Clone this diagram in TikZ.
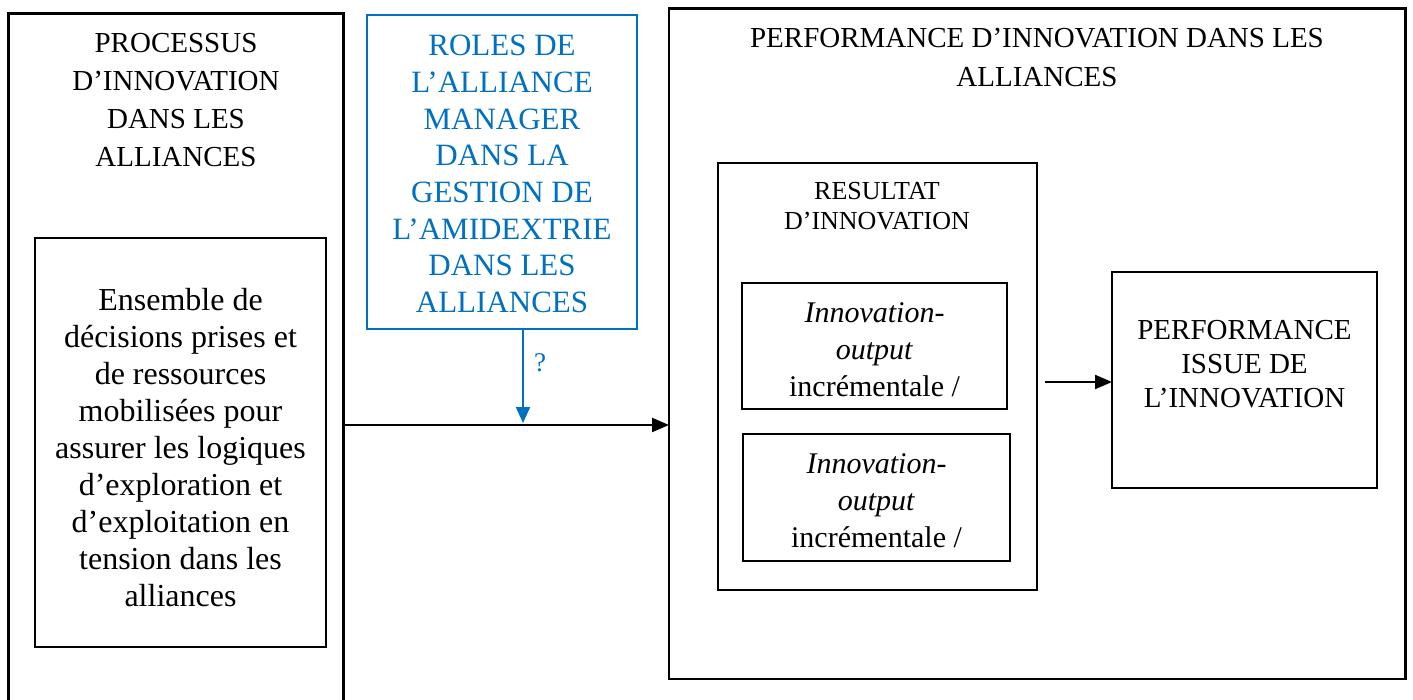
\documentclass[tikz,border=0pt]{standalone}
\usepackage{fontspec}
\setmainfont{Liberation Serif}
\usetikzlibrary{arrows.meta}
\definecolor{wordblue}{RGB}{0,112,192}
\begin{document}
\begin{tikzpicture}[x=1pt,y=-1pt,
  boxbase/.style={rectangle, inner sep=0pt, outer sep=0pt, anchor=north west},
  thickbox/.style={boxbase, draw=black, line width=2.6pt},
  thinbox/.style={boxbase, draw=black, line width=1.2pt},
  bluebox/.style={boxbase, draw=wordblue, line width=1.6pt},
  txt/.style={align=center, inner sep=0pt, anchor=north},
  arr/.style={-{Triangle[length=17pt,width=14pt]}, line width=2.2pt, draw=black},
  bluearr/.style={-{Triangle[length=16pt,width=14pt]}, line width=2.2pt, draw=wordblue}
]
\useasboundingbox (0,0) rectangle (1413,700);

% boxes
\node[thickbox, minimum width=335pt, minimum height=720pt] (proc) at (8.5,13.5) {};
\node[thinbox, minimum width=291pt, minimum height=409pt] (ens) at (35,238) {};
\node[bluebox, minimum width=270pt, minimum height=314pt] (roles) at (367,15) {};
\node[thickbox, minimum width=736.5pt, minimum height=670.5pt] (perfbox) at (669,8.5) {};
\node[thinbox, minimum width=319pt, minimum height=427pt] (result) at (718,163) {};
\node[thinbox, minimum width=265pt, minimum height=126pt] (io1) at (742,283) {};
\node[thinbox, minimum width=267pt, minimum height=127pt] (io2) at (743,434) {};
\node[thinbox, minimum width=265pt, minimum height=216pt] (perfissue) at (1112,272) {};

% texts
\node[txt, font=\fontsize{29}{38}\selectfont] (proctitle) at (176,33)
  {PROCESSUS\\D’INNOVATION\\DANS LES\\ALLIANCES};
\node[txt, font=\fontsize{32}{36.9}\selectfont] (enstxt) at (180.5,288.5)
  {Ensemble de\\décisions prises et\\de ressources\\mobilisées pour\\assurer les logiques\\d’exploration et\\d’exploitation en\\tension dans les\\alliances};
\node[txt, text=wordblue, font=\fontsize{31}{36.7}\selectfont] (rolestxt) at (502,35)
  {ROLES DE\\L’ALLIANCE\\MANAGER\\DANS LA\\GESTION DE\\L’AMIDEXTRIE\\DANS LES\\ALLIANCES};
\node[txt, font=\fontsize{29}{39}\selectfont] (perftitle) at (1037,28)
  {PERFORMANCE D’INNOVATION DANS LES\\ALLIANCES};
\node[txt, font=\fontsize{26}{30}\selectfont] (resulttxt) at (877,182)
  {RESULTAT\\D’INNOVATION};
\node[txt, font=\fontsize{30}{37}\selectfont] (io1txt) at (874.5,302)
  {\textit{Innovation-}\\\textit{output}\\incrémentale /};
\node[txt, font=\fontsize{30}{37}\selectfont] (io2txt) at (876.5,453)
  {\textit{Innovation-}\\\textit{output}\\incrémentale /};
\node[txt, font=\fontsize{29}{34}\selectfont] (perfissuetxt) at (1244.5,320)
  {PERFORMANCE\\ISSUE DE\\L’INNOVATION};

% connectors
\coordinate (mainY) at (0,425);
\draw[arr] (proc.east |- mainY) -- (perfbox.west |- mainY);
\coordinate (blueX) at (523,0);
\coordinate (blueEnd) at (523,423);
\draw[bluearr] (roles.south -| blueX) -- (blueEnd)
  node[pos=0.36, right=10pt, text=wordblue, font=\fontsize{27}{30}\selectfont, inner sep=0pt] (qmark) {?};
\coordinate (smallStart) at (1045,382);
\draw[arr] (smallStart) -- (perfissue.west |- smallStart);
\end{tikzpicture}
\end{document}
